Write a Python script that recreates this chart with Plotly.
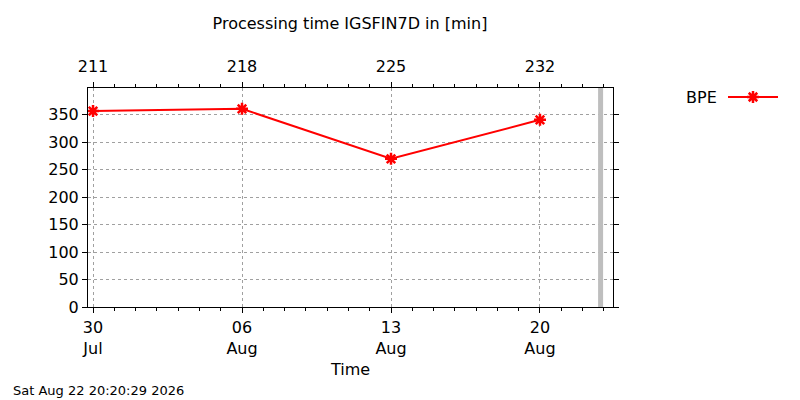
import plotly.graph_objects as go

# processing time samples (minutes)
dates = ["2026-07-30", "2026-08-06", "2026-08-13", "2026-08-20"]
bpe_minutes = [357, 361, 270, 341]

tick_dates = ["2026-07-30", "2026-08-06", "2026-08-13", "2026-08-20"]
doy_labels = ["211", "218", "225", "232"]

x_range = ["2026-07-29 18:20", "2026-08-23 10:20"]
now_stamp = "2026-08-22 20:20:29"
now_text = "Sat Aug 22 20:20:29 2026"

FONT = "DejaVu Sans"
RED = "#ff0000"
GRID = "#a0a0a0"

# the page body adds an 8 px offset, so the figure is 792x392
# plot area lands at 88..613 x 88..307 in the browser window
W, H = 792, 392
plot_w = W - 80 - 20
main_dom = [0, 525 / plot_w]

star = dict(symbol="asterisk-open", size=10, line=dict(color=RED, width=2.5))

fig = go.Figure()

fig.add_trace(
    go.Scatter(
        x=dates,
        y=bpe_minutes,
        mode="lines+markers",
        line=dict(color=RED, width=2),
        marker=star,
        name="BPE",
        showlegend=False,
        xaxis="x",
        yaxis="y",
    )
)

# invisible trace so the top (day-of-year) axis is drawn
fig.add_trace(
    go.Scatter(x=dates, y=bpe_minutes, mode="none", hoverinfo="skip",
               showlegend=False, xaxis="x2", yaxis="y")
)

# legend sample (text sits left of the line, gnuplot style)
fig.add_trace(
    go.Scatter(
        x=[0, 1, 2],
        y=[0, 0, 0],
        mode="lines+markers",
        line=dict(color=RED, width=2),
        marker=dict(**star, opacity=[0, 1, 0]),
        hoverinfo="skip",
        showlegend=False,
        xaxis="x3",
        yaxis="y3",
    )
)

axis_common = dict(
    showline=True,
    linecolor="black",
    linewidth=1,
    ticks="outside",
    ticklen=5,
    tickcolor="black",
    automargin=False,
    tickfont=dict(family=FONT, size=16, color="black"),
)

fig.update_layout(
    width=W,
    height=H,
    margin=dict(l=80, r=20, t=80, b=93),
    paper_bgcolor="white",
    plot_bgcolor="white",
    font=dict(family=FONT, size=16, color="black"),
    title=dict(
        text="Processing time IGSFIN7D in [min]",
        x=(350 - 88) / plot_w,
        xref="paper",
        xanchor="center",
        y=1 - 15 / H,
        yref="container",
        yanchor="middle",
        font=dict(family=FONT, size=16, color="black"),
    ),
    xaxis=dict(
        **axis_common,
        domain=main_dom,
        type="date",
        range=x_range,
        tickvals=tick_dates,
        tickformat="%d<br>%b",
        ticklabelstandoff=1,
        showgrid=True,
        gridcolor=GRID,
        griddash="dot",
        gridwidth=1,
        zeroline=False,
        mirror=True,
        minor=dict(ticks="outside", ticklen=3, dtick=86400000, tick0="2026-07-30",
                   tickcolor="black", showgrid=False),
        title=dict(text="Time", standoff=6, font=dict(family=FONT, size=16)),
    ),
    xaxis2=dict(
        **axis_common,
        domain=main_dom,
        type="date",
        overlaying="x",
        matches="x",
        side="top",
        anchor="y",
        tickvals=tick_dates,
        ticktext=doy_labels,
        ticklabelstandoff=4,
        showgrid=False,
        minor=dict(ticks="outside", ticklen=3, dtick=86400000, tick0="2026-07-30",
                   tickcolor="black", showgrid=False),
    ),
    yaxis=dict(
        **axis_common,
        range=[0, 399],
        dtick=50,
        showgrid=True,
        gridcolor=GRID,
        griddash="dot",
        gridwidth=1,
        zeroline=False,
        mirror="ticks",
    ),
    xaxis3=dict(domain=[(728 - 88) / plot_w, (778 - 88) / plot_w], range=[0, 2],
                visible=False, anchor="y3"),
    yaxis3=dict(domain=[(307 - 103) / 219, (307 - 91) / 219], range=[-1, 1],
                visible=False, anchor="x3"),
    shapes=[
        dict(
            type="line",
            xref="x",
            yref="y domain",
            x0=now_stamp,
            x1=now_stamp,
            y0=0,
            y1=1,
            line=dict(color="#bebebe", width=5),
            layer="above",
        )
    ],
    annotations=[
        dict(
            text="BPE",
            xref="paper",
            yref="paper",
            x=(719 - 88) / plot_w,
            y=(307 - 97) / 219,
            xanchor="right",
            yanchor="middle",
            showarrow=False,
            font=dict(family=FONT, size=16, color="black"),
        ),
        dict(
            text=now_text,
            xref="paper",
            yref="paper",
            x=(11 - 88) / plot_w,
            y=(307 - 390) / 219,
            xanchor="left",
            yanchor="middle",
            showarrow=False,
            font=dict(family=FONT, size=13, color="black"),
        ),
    ],
)

fig.write_html("out.html")
